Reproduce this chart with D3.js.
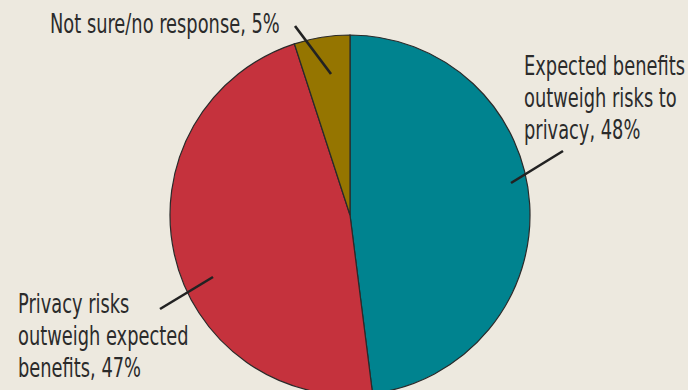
<!DOCTYPE html>
<html><head><meta charset="utf-8">
<script src="https://cdn.jsdelivr.net/npm/d3@7"></script>
<style>html,body{margin:0;padding:0;background:#EDE9DF;}</style>
</head><body>
<svg id="c" width="688" height="390"></svg>
<script>
const categories = ["Expected benefits outweigh risks to privacy", "Privacy risks outweigh expected benefits", "Not sure/no response"];
const values = [48, 47, 5];
const colors = ["#00838F", "#C5323D", "#957500"];
const labelLines = [
  ["Expected benefits", "outweigh risks to", "privacy, 48%"],
  ["Privacy risks", "outweigh expected", "benefits, 47%"],
  ["Not sure/no response, 5%"]
];

const W = 688, H = 390, cx = 350, cy = 215, R = 180;
const svg = d3.select("#c");
svg.append("rect").attr("width", W).attr("height", H).attr("fill", "#EDE9DF");

const pie = d3.pie().sort(null).value(d => d)(values);
const arc = d3.arc().innerRadius(0).outerRadius(R);
const g = svg.append("g").attr("transform", `translate(${cx},${cy})`);
g.selectAll("path").data(pie).join("path")
  .attr("d", arc).attr("fill", (d, i) => colors[i])
  .attr("stroke", "#2a2a2a").attr("stroke-width", 1.2);

// leader lines (relative to pie center)
const leaders = [
  [[161, -32], [213, -64]],
  [[-137, 62], [-190, 94]],
  [[-19, -141], [-55, -189]]
];
g.selectAll("line.lead").data(leaders).join("line")
  .attr("x1", d => d[0][0]).attr("y1", d => d[0][1])
  .attr("x2", d => d[1][0]).attr("y2", d => d[1][1])
  .attr("stroke", "#222").attr("stroke-width", 2.6);

const font = "'DejaVu Sans Condensed', 'Liberation Sans Narrow', sans-serif";
const labelPos = [
  {x: 524, y: 75},
  {x: 18, y: 313},
  {x: 50, y: 33}
];
// horizontal compression so the reference's condensed face width is matched
function measure(s) {
  const p = svg.append("text").attr("font-family", font).attr("font-size", 26).text(s);
  const w = p.node().getComputedTextLength(); p.remove(); return w;
}
const sx = Math.min(237 / measure(labelLines[2][0]), 161 / measure(labelLines[0][0]));

labelLines.forEach((lines, i) => {
  const p = labelPos[i];
  const t = svg.append("text").attr("font-family", font).attr("font-size", 26)
    .attr("fill", "#2b2b2b")
    .attr("transform", `translate(${p.x},${p.y}) scale(${sx},1)`);
  lines.forEach((s, j) => {
    t.append("tspan").attr("x", 0).attr("y", j * 31.8).text(s);
  });
});
</script>
</body></html>
